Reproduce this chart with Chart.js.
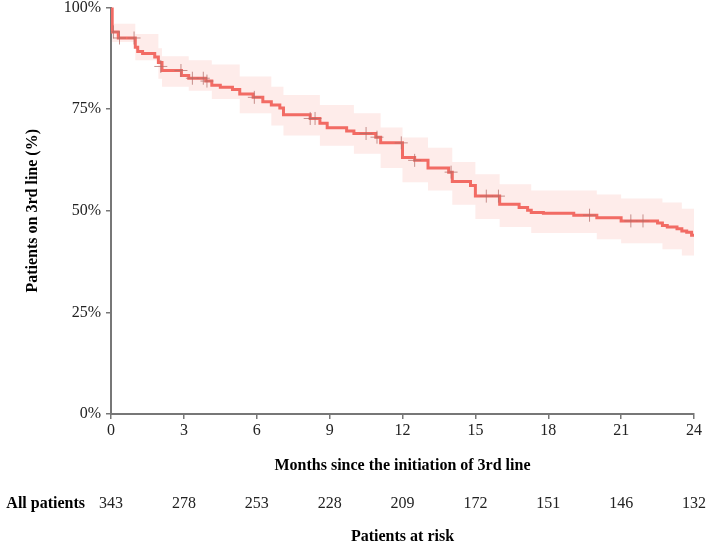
<!DOCTYPE html>
<html><head><meta charset="utf-8">
<script src="https://cdn.jsdelivr.net/npm/chart.js@4"></script>
<style>html,body{margin:0;padding:0;background:#fff}#wrap{width:709px;height:547px}</style>
</head><body><div id="wrap"><canvas id="c" width="709" height="547"></canvas></div>
<script>
const kmTimes = [0, 0.05, 0.3, 1.0, 1.1, 1.3, 1.8, 1.95, 2.1, 2.9, 3.2, 3.9, 4.15, 4.5, 5.0, 5.3, 5.85, 6.25, 6.6, 6.95, 7.1, 8.2, 8.6, 8.9, 9.7, 10.0, 10.9, 11.1, 12.0, 12.5, 13.05, 13.9, 14.05, 14.8, 15.0, 16.0, 16.8, 17.15, 17.3, 17.8, 19.05, 20.0, 21.0, 22.5, 22.7, 22.9, 23.3, 23.5, 23.7, 23.9, 24.0];
const kmSurv  = [100, 94.0, 92.5, 90.2, 89.2, 88.7, 87.8, 86.5, 84.5, 83.3, 82.6, 81.9, 80.9, 80.4, 79.8, 78.7, 77.9, 76.8, 76.0, 75.3, 73.6, 72.7, 71.5, 70.4, 69.6, 69.0, 68.1, 66.7, 63.1, 62.4, 60.5, 59.5, 57.2, 56.2, 53.6, 51.6, 50.8, 50.1, 49.6, 49.4, 48.9, 48.3, 47.5, 47.0, 46.4, 46.0, 45.6, 45.0, 44.7, 44.0, 44.0];

const bandTimes = [0, 0.05, 1.0, 1.95, 2.1, 3.2, 4.15, 5.3, 6.6, 7.1, 8.6, 10.0, 11.1, 12.0, 13.05, 14.05, 15.0, 16.0, 17.3, 20.0, 21.0, 22.7, 23.5, 24.0];
const bandUpper = [100, 96.0, 93.5, 90.0, 88.0, 87.0, 86.0, 83.0, 80.5, 78.5, 76.0, 74.0, 70.5, 68.0, 65.5, 62.0, 59.0, 56.5, 55.0, 54.0, 53.0, 52.0, 50.5, 50.5];
const bandLower = [100, 91.5, 87.0, 82.5, 80.5, 79.5, 77.5, 74.0, 71.0, 68.5, 66.0, 64.0, 60.5, 57.0, 55.0, 51.5, 48.0, 46.0, 44.5, 43.0, 42.0, 40.5, 39.0, 39.0];

const censorTimes = [0.1, 0.35, 0.95, 2.05, 2.88, 3.35, 3.8, 3.95, 5.9, 8.2, 8.4, 10.5, 10.95, 11.95, 12.5, 14.0, 15.45, 15.95, 19.7, 21.4, 21.9];
const censorSurv  = [94.0, 92.5, 92.5, 85.5, 84.5, 82.6, 82.6, 81.9, 77.9, 72.7, 72.7, 69.0, 68.1, 66.7, 62.4, 59.5, 53.6, 53.6, 48.9, 47.5, 47.5];

const xTicks = [0, 3, 6, 9, 12, 15, 18, 21, 24];
const riskCounts = [343, 278, 253, 228, 209, 172, 151, 146, 132];
const yTickValues = [0, 25, 50, 75, 100];

const xTitle = 'Months since the initiation of 3rd line';
const yTitle = 'Patients on 3rd line (%)';
const riskLabel = 'All patients';
const riskTitle = 'Patients at risk';

const FONT = '"Liberation Serif", "Times New Roman", serif';
const RED = '#F26B64';

function pts(xs, ys){ return xs.map((x,i)=>({x:x, y:ys[i]})); }

const textPlugin = {
  id: 'texts',
  afterDraw(chart){
    const ctx = chart.ctx, ca = chart.chartArea, xs = chart.scales.x;
    ctx.save();
    ctx.fillStyle = '#000';
    ctx.textBaseline = 'middle';
    ctx.font = 'bold 16px ' + FONT;
    ctx.save();
    ctx.translate(33, (ca.top + ca.bottom)/2);
    ctx.rotate(-Math.PI/2);
    ctx.textAlign = 'center';
    ctx.fillText(yTitle, 0, 0);
    ctx.restore();
    const cx = (ca.left + ca.right)/2;
    ctx.textAlign = 'center';
    ctx.fillText(xTitle, cx, 466);
    ctx.fillText(riskTitle, cx, 537);
    ctx.textAlign = 'right';
    ctx.fillText(riskLabel, 85, 504);
    ctx.font = '16px ' + FONT;
    ctx.fillStyle = '#222';
    ctx.textAlign = 'center';
    xTicks.forEach((t,i)=>{
      ctx.fillText(String(riskCounts[i]), xs.getPixelForValue(t), 504);
    });
    ctx.restore();
  }
};

new Chart(document.getElementById('c'), {
  type: 'line',
  data: {
    datasets: [
      { label:'upper', data: pts(bandTimes, bandUpper), stepped:'before', borderWidth:0, borderColor:'rgba(0,0,0,0)', pointRadius:0, fill:false, order:3 },
      { label:'lower', data: pts(bandTimes, bandLower), stepped:'before', borderWidth:0, borderColor:'rgba(0,0,0,0)', pointRadius:0, fill:'-1', backgroundColor:'rgba(248,118,109,0.14)', order:2 },
      { label:'All patients', data: pts(kmTimes, kmSurv), stepped:'before', borderColor:RED, borderWidth:3, pointRadius:0, fill:false, order:1 },
      { label:'censored', type:'scatter', data: pts(censorTimes, censorSurv), showLine:false, pointStyle:'cross', pointRadius:6.5, pointBorderWidth:1, pointBorderColor:'rgba(180,110,105,0.75)', pointBackgroundColor:'rgba(0,0,0,0)', order:0 }
    ]
  },
  options: {
    responsive:false, animation:false, devicePixelRatio:1,
    layout:{ padding:{ left:0, right:15, top:7, bottom:0 } },
    plugins:{ legend:{display:false}, tooltip:{enabled:false} },
    elements:{ line:{ tension:0 } },
    scales:{
      x:{
        type:'linear', min:0, max:24,
        afterBuildTicks(s){ s.ticks = xTicks.map(v=>({value:v})); },
        ticks:{ font:{family:FONT, size:16}, color:'#222', padding:2, maxRotation:0, autoSkip:false },
        grid:{ drawOnChartArea:false, drawTicks:true, tickLength:5, color:'#777', lineWidth:1.5 },
        border:{ display:true, color:'#777', width:2 },
        afterFit(s){ s.height = 133; s.paddingLeft = 0; s.paddingRight = 0; }
      },
      y:{
        type:'linear', min:0, max:100,
        afterBuildTicks(s){ s.ticks = yTickValues.map(v=>({value:v})); },
        ticks:{ font:{family:FONT, size:16}, color:'#222', padding:5, callback:v=>v+'%' },
        grid:{ drawOnChartArea:false, drawTicks:true, tickLength:5, color:'#777', lineWidth:1.5 },
        border:{ display:true, color:'#777', width:2 },
        afterFit(s){ s.width = 111; s.paddingTop = 0; s.paddingBottom = 0; }
      }
    }
  },
  plugins:[textPlugin]
});
</script>
</body></html>
